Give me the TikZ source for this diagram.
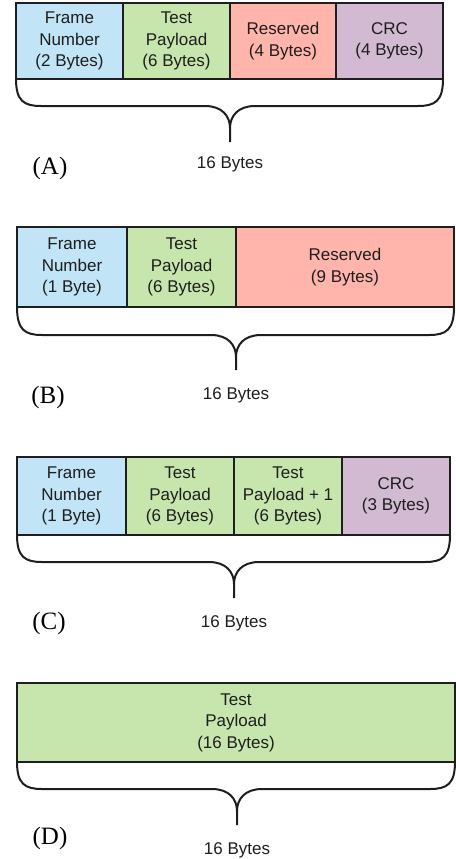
\documentclass[tikz,border=0pt]{standalone}
\usepackage{fontspec}
\setmainfont{Liberation Sans}
\newfontfamily\labelserif{Liberation Serif}
\definecolor{cblue}{HTML}{C1E4F7}
\definecolor{cgreen}{HTML}{C6E6AE}
\definecolor{cred}{HTML}{FFB5AC}
\definecolor{cpurple}{HTML}{D3BAD3}
\definecolor{ink}{HTML}{1E1E1E}
\tikzset{
  cell/.style={draw=ink, line width=1.5pt, outer sep=0pt, inner sep=0pt, anchor=north west,
    align=center, text=ink, font=\fontsize{17}{21.5}\selectfont},
  bracestyle/.style={draw=ink, line width=2pt},
  total/.style={text=ink, font=\fontsize{17}{20}\selectfont},
  panel/.style={text=black, font=\labelserif\fontsize{25}{27}\selectfont}
}
\newcommand{\bracedraw}[6]{%
  \draw[bracestyle] (#1,#2) .. controls (#1,#4-5) and (#1+8,#4) .. (#1+25,#4)
     -- (#5-25,#4) .. controls (#5-8,#4) and (#5,#4+10) .. (#5,#4+22) -- (#5,#6);
  \draw[bracestyle] (#3,#2) .. controls (#3,#4-5) and (#3-8,#4) .. (#3-25,#4)
     -- (#5+25,#4) .. controls (#5+8,#4) and (#5,#4+10) .. (#5,#4+22);
}
\begin{document}
\begin{tikzpicture}[x=1pt,y=-1pt]
\useasboundingbox (0,0) rectangle (455,859);
% Panel A
\node[cell, fill=cblue,   minimum width=107pt, minimum height=76pt] (a1) at (16,3)  {Frame\\Number\\(2 Bytes)};
\node[cell, fill=cgreen,  minimum width=107pt, minimum height=76pt] (a2) at (123,3) {Test\\Payload\\(6 Bytes)};
\node[cell, fill=cred,    minimum width=106pt, minimum height=76pt] (a3) at (230,3) {Reserved\\(4 Bytes)};
\node[cell, fill=cpurple, minimum width=107pt, minimum height=76pt] (a4) at (336,3) {CRC\\(4 Bytes)};
\bracedraw{16}{79}{443}{106}{230}{142}
\node[total] (at) at (230,164) {16 Bytes};
\node[panel] (al) at (50,168) {(A)};
% Panel B
\node[cell, fill=cblue,   minimum width=110pt, minimum height=80pt] (b1) at (17,227)  {Frame\\Number\\(1 Byte)};
\node[cell, fill=cgreen,  minimum width=109pt, minimum height=80pt] (b2) at (127,227) {Test\\Payload\\(6 Bytes)};
\node[cell, fill=cred,    minimum width=218pt, minimum height=80pt] (b3) at (236,227) {Reserved\\(9 Bytes)};
\bracedraw{17}{307}{454}{335}{236}{370}
\node[total] (bt) at (236,395) {16 Bytes};
\node[panel] (bl) at (48,397) {(B)};
% Panel C
\node[cell, fill=cblue,   minimum width=109pt, minimum height=78pt] (c1) at (17,457)  {Frame\\Number\\(1 Byte)};
\node[cell, fill=cgreen,  minimum width=108pt, minimum height=78pt] (c2) at (126,457) {Test\\Payload\\(6 Bytes)};
\node[cell, fill=cgreen,  minimum width=108pt, minimum height=78pt] (c3) at (234,457) {Test\\Payload + 1\\(6 Bytes)};
\node[cell, fill=cpurple, minimum width=108pt, minimum height=78pt] (c4) at (342,457) {CRC\\(3 Bytes)};
\bracedraw{17}{535}{450}{562}{234}{598}
\node[total] (ct) at (234,623) {16 Bytes};
\node[panel] (cl) at (49,623) {(C)};
% Panel D
\node[cell, fill=cgreen,  minimum width=438pt, minimum height=79pt] (d1) at (17,683) {Test\\Payload\\(16 Bytes)};
\bracedraw{17}{762}{455}{789}{237}{825}
\node[total] (dt) at (237,850) {16 Bytes};
\node[panel] (dl) at (50,838) {(D)};
\end{tikzpicture}
\end{document}
